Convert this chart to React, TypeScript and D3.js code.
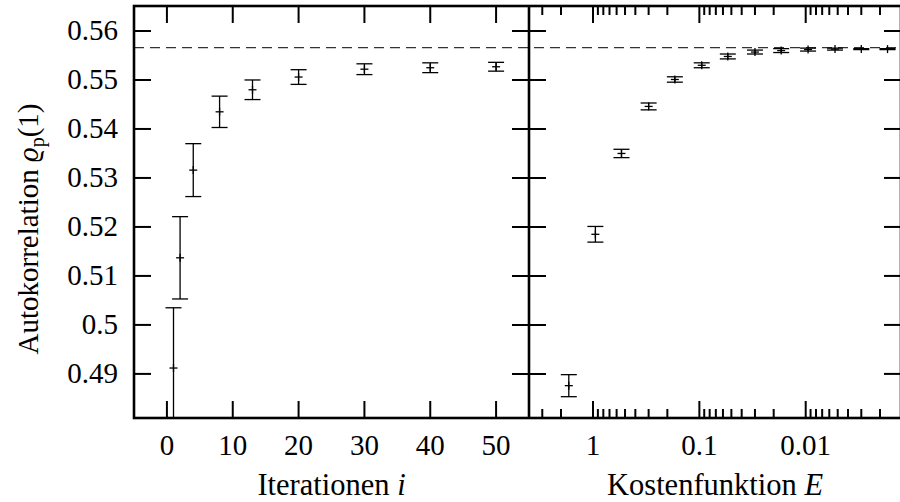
import React from "react";
import * as d3 from "d3";

// ---------- data ----------
const iterations = [1, 2, 4, 8, 13, 20, 30, 40, 50];
const iterValues = [0.4912, 0.5137, 0.5316, 0.5435, 0.548, 0.5506, 0.5522, 0.5525, 0.5527];
const iterErrors = [0.0123, 0.0084, 0.0054, 0.0032, 0.002, 0.0015, 0.0011, 0.001, 0.0009];

const costE = [1.69, 0.95, 0.54, 0.3, 0.17, 0.095, 0.054, 0.03, 0.017, 0.0095, 0.0053, 0.003, 0.0017];
const costValues = [0.4876, 0.5185, 0.535, 0.5446, 0.5501, 0.553, 0.5548, 0.5557, 0.556, 0.5562, 0.5563, 0.5563, 0.5563];
const costErrors = [0.00225, 0.0016, 0.00085, 0.0007, 0.00055, 0.0005, 0.0005, 0.0004, 0.0004, 0.0003, 0.0002, 0.0001, 0.0001];

const referenceValue = 0.55659;

const yTicks = [0.49, 0.5, 0.51, 0.52, 0.53, 0.54, 0.55, 0.56];
const yTickLabels = ["0.49", "0.5", "0.51", "0.52", "0.53", "0.54", "0.55", "0.56"];
const iterTicks = [0, 10, 20, 30, 40, 50];
const costMajorTicks = [1, 0.1, 0.01];
const costMajorLabels = ["1", "0.1", "0.01"];

// ---------- layout ----------
const W = 900;
const H = 502;
const left = 134;
const mid = 529;
const right = 901;
const top = 6;
const bottom = 418;
const majorLen = 17;
const minorLen = 9;
const FONT = '"Liberation Serif"';
const FS = 29;

const y = d3.scaleLinear().domain([0.481, 0.5651]).range([bottom, top]);
const xIter = d3.scaleLinear().domain([-5, 55]).range([left, mid]);
const xCost = d3.scaleLog().domain([4, 0.00127]).range([mid, right]);

// minor ticks for the log axis
const costMinorTicks: number[] = [];
[1, 0.1, 0.01, 0.001].forEach((dec) => {
  for (let k = 2; k <= 9; k++) {
    const v = k * dec;
    if (v <= 4 && v >= 0.00127) costMinorTicks.push(v);
  }
});

const textStyle = { fontFamily: FONT, fontSize: FS, fill: "#000" };
const titleStyle = { fontFamily: FONT, fontSize: 30.5, fill: "#000" };

function ErrorBars({ xs, vals, errs, xScale, clip }: any) {
  const cap = 8;
  const mark = 4;
  return (
    <g clipPath={`url(#${clip})`} stroke="#000" strokeWidth={1.3} fill="none">
      {xs.map((xv: number, i: number) => {
        const cx = xScale(xv);
        const cy = y(vals[i]);
        const y1 = y(vals[i] + errs[i]);
        const y2 = y(vals[i] - errs[i]);
        return (
          <g key={i}>
            <line x1={cx} x2={cx} y1={y1} y2={y2} />
            <line x1={cx - cap} x2={cx + cap} y1={y1} y2={y1} />
            <line x1={cx - cap} x2={cx + cap} y1={y2} y2={y2} />
            <line x1={cx - mark} x2={cx + mark} y1={cy} y2={cy} />
            <line x1={cx} x2={cx} y1={cy - mark} y2={cy + mark} />
          </g>
        );
      })}
    </g>
  );
}

export default function App() {
  return (
    <svg
      width={W}
      height={H}
      style={{ position: "absolute", left: 0, top: 0, background: "#fff" }}
    >
      <defs>
        <clipPath id="clipL">
          <rect x={left} y={top} width={mid - left} height={bottom - top} />
        </clipPath>
        <clipPath id="clipR">
          <rect x={mid} y={top} width={right - mid} height={bottom - top} />
        </clipPath>
      </defs>
      <rect x={0} y={0} width={W} height={H} fill="#fff" />

      {/* reference line */}
      <line
        x1={left}
        x2={right}
        y1={y(referenceValue)}
        y2={y(referenceValue)}
        stroke="#333"
        strokeWidth={1.3}
        strokeDasharray="10,6"
      />

      {/* data */}
      <ErrorBars xs={iterations} vals={iterValues} errs={iterErrors} xScale={xIter} clip="clipL" />
      <ErrorBars xs={costE} vals={costValues} errs={costErrors} xScale={xCost} clip="clipR" />

      {/* ticks */}
      <g stroke="#000" strokeWidth={2}>
        {yTicks.map((t) => (
          <g key={t}>
            <line x1={left} x2={left + majorLen} y1={y(t)} y2={y(t)} />
            <line x1={mid - majorLen} x2={mid + majorLen} y1={y(t)} y2={y(t)} />
            <line x1={right - majorLen} x2={right} y1={y(t)} y2={y(t)} />
          </g>
        ))}
        {iterTicks.map((t) => (
          <g key={t}>
            <line x1={xIter(t)} x2={xIter(t)} y1={bottom} y2={bottom - majorLen} />
            <line x1={xIter(t)} x2={xIter(t)} y1={top} y2={top + majorLen} />
          </g>
        ))}
        {costMajorTicks.map((t) => (
          <g key={t}>
            <line x1={xCost(t)} x2={xCost(t)} y1={bottom} y2={bottom - majorLen} />
            <line x1={xCost(t)} x2={xCost(t)} y1={top} y2={top + majorLen} />
          </g>
        ))}
        {costMinorTicks.map((t) => (
          <g key={t}>
            <line x1={xCost(t)} x2={xCost(t)} y1={bottom} y2={bottom - minorLen} />
            <line x1={xCost(t)} x2={xCost(t)} y1={top} y2={top + minorLen} />
          </g>
        ))}
      </g>

      {/* frame */}
      <rect
        x={left}
        y={top}
        width={right - left}
        height={bottom - top}
        fill="none"
        stroke="#000"
        strokeWidth={2.6}
      />
      <line x1={mid} x2={mid} y1={top} y2={bottom} stroke="#000" strokeWidth={2.6} />

      {/* tick labels */}
      {yTicks.map((t, i) => (
        <text key={t} x={118} y={y(t) + 9.5} textAnchor="end" style={textStyle}>
          {yTickLabels[i]}
        </text>
      ))}
      {iterTicks.map((t) => (
        <text key={t} x={xIter(t)} y={455} textAnchor="middle" style={textStyle}>
          {String(t)}
        </text>
      ))}
      {costMajorTicks.map((t, i) => (
        <text key={t} x={xCost(t)} y={455} textAnchor="middle" style={textStyle}>
          {costMajorLabels[i]}
        </text>
      ))}

      {/* axis titles */}
      <text x={(left + mid) / 2} y={495} textAnchor="middle" style={titleStyle}>
        Iterationen <tspan fontStyle="italic">i</tspan>
      </text>
      <text x={(mid + right) / 2} y={495} textAnchor="middle" style={titleStyle}>
        Kostenfunktion <tspan fontStyle="italic">E</tspan>
      </text>
      <text
        transform={`translate(38, 229) rotate(-90)`}
        textAnchor="middle"
        style={textStyle}
      >
        Autokorrelation <tspan fontStyle="italic">ϱ</tspan>
        <tspan fontSize={20} dy={6}>p</tspan>
        <tspan dy={-6}>(1)</tspan>
      </text>
    </svg>
  );
}
